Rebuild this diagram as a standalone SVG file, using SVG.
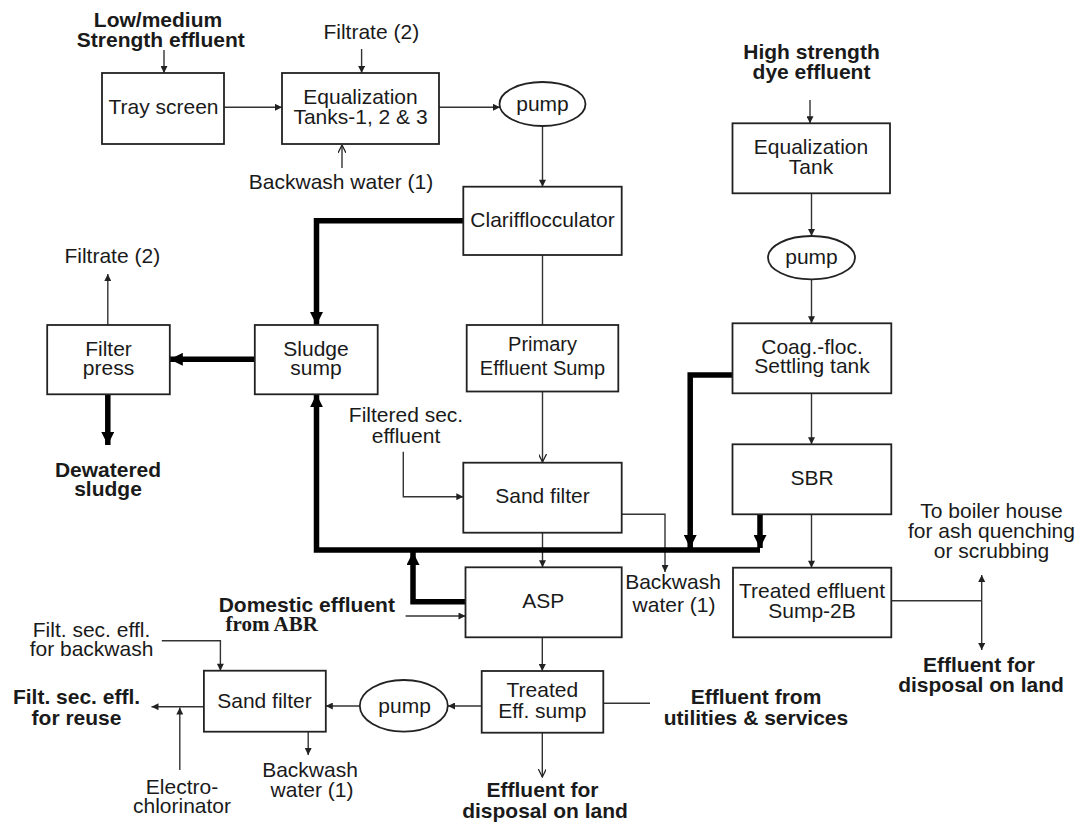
<svg xmlns="http://www.w3.org/2000/svg" width="1079" height="825" viewBox="0 0 1079 825">
  <style>
    text { font-family: "Liberation Sans", Arial, sans-serif; font-size: 21px; fill: #1a1a1a; text-anchor: middle; }
    .b { font-weight: bold; }
    .serif { font-family: "Liberation Serif", "Times New Roman", serif; }
    .box { fill: #ffffff; stroke: #222222; stroke-width: 1.8; }
    .thin { fill: none; stroke: #333333; stroke-width: 1.4; }
    .thick { fill: none; stroke: #000000; stroke-width: 5.5; }
    .a { marker-end: url(#arr); }
    .v { marker-end: url(#arrV); }
    .ab { marker-end: url(#arrB); }
  </style>
  <defs>
    <marker id="arr" viewBox="0 0 10 10" refX="10" refY="5" markerUnits="userSpaceOnUse" markerWidth="9" markerHeight="7" orient="auto-start-reverse">
      <path d="M0,0 L10,5 L0,10 z" fill="#222222"/>
    </marker>
    <marker id="arrV" viewBox="0 0 10 10" refX="10" refY="5" markerUnits="userSpaceOnUse" markerWidth="9" markerHeight="8" orient="auto">
      <path d="M0,0 L10,5 L0,10" fill="none" stroke="#222222" stroke-width="1.6"/>
    </marker>
    <marker id="arrB" viewBox="0 0 10 10" refX="10" refY="5" markerUnits="userSpaceOnUse" markerWidth="13" markerHeight="13" orient="auto">
      <path d="M0,0 L10,5 L0,10 z" fill="#000000"/>
    </marker>
  </defs>
  <rect width="1079" height="825" fill="#ffffff"/>

  <!-- flow connectors -->
  <g id="connectors">
    <!-- low/medium strength line -->
    <path class="thin a" d="M164,50 V73"/>
    <path class="thin a" d="M224,107.3 H282"/>
    <path class="thin a" d="M361.6,49 V73"/>
    <path class="thin v" d="M342,168 V145"/>
    <path class="thin a" d="M439,107.3 H500"/>
    <path class="thin a" d="M542.5,126 V186.7"/>
    <path class="thin" d="M542.5,255 V325"/>
    <path class="thin v" d="M542.5,391.5 V462"/>
    <path class="thin a" d="M403.3,451.7 V496.7 H463.3"/>
    <path class="thin a" d="M620,514.3 H665 V572"/>
    <path class="thin a" d="M542.5,532.7 V567.3"/>
    <path class="thin a" d="M405.6,616 H465.5"/>
    <path class="thin a" d="M542.3,637.3 V671"/>
    <path class="thin v" d="M542.3,732.7 V777"/>
    <path class="thin" d="M650,703.3 H603.3"/>
    <path class="thin a" d="M481.7,706 H448"/>
    <path class="thin a" d="M359.8,706 H325.8"/>
    <path class="thin a" d="M203.9,706.7 H151.5"/>
    <path class="thin a" d="M179.8,770 V707.5"/>
    <path class="thin a" d="M308.2,731.7 V755"/>
    <path class="thin a" d="M161.8,640.7 H220.4 V670.7"/>
    <path class="thin a" d="M107.8,325 V274"/>
    <!-- high strength dye line -->
    <path class="thin a" d="M810,100 V123.3"/>
    <path class="thin a" d="M811.5,193.3 V236"/>
    <path class="thin a" d="M811.5,279.3 V323.3"/>
    <path class="thin a" d="M811.5,393.3 V444.3"/>
    <path class="thin a" d="M811.5,514.3 V567.7"/>
    <path class="thin" d="M891.3,600.7 H981.7"/>
    <path class="thin" d="M981.7,575 V650" marker-start="url(#arr)" marker-end="url(#arr)"/>
    <!-- sludge lines -->
    <path class="thick ab" d="M463.3,220.7 H316.5 V325"/>
    <path class="thick ab" d="M254.8,359.3 H169.8"/>
    <path class="thick ab" d="M107.8,394.3 V445"/>
    <path class="thick ab" d="M760,550 H316.5 V394.3"/>
    <path class="thick ab" d="M732.5,375 H690.2 V548"/>
    <path class="thick ab" d="M760,514.3 V548"/>
    <path class="thick ab" d="M465.5,601.7 H413 V552"/>
  </g>

  <g id="tray-screen">
    <rect class="box" x="102" y="73" width="122" height="71"/>
    <text x="163.5" y="114">Tray screen</text>
  </g>
  <g id="equalization-tanks">
    <rect class="box" x="282" y="73" width="157" height="71"/>
    <text x="360.5" y="104">Equalization</text>
    <text x="360.5" y="124">Tanks-1, 2 &amp; 3</text>
  </g>
  <g id="pump-1">
    <ellipse class="box" cx="542.5" cy="104" rx="43" ry="22"/>
    <text x="542.5" y="111">pump</text>
  </g>
  <g id="equalization-tank">
    <rect class="box" x="732.5" y="123.3" width="157.5" height="70"/>
    <text x="811" y="154.3">Equalization</text>
    <text x="811" y="174">Tank</text>
  </g>
  <g id="pump-2">
    <ellipse class="box" cx="811.5" cy="257.7" rx="43.5" ry="21.7"/>
    <text x="811.5" y="264">pump</text>
  </g>
  <g id="clarifflocculator">
    <rect class="box" x="463.3" y="186.7" width="158.4" height="68.3"/>
    <text x="542.5" y="227.3">Clarifflocculator</text>
  </g>
  <g id="filter-press">
    <rect class="box" x="47.2" y="325" width="122.6" height="69.3"/>
    <text x="108.5" y="355.7">Filter</text>
    <text x="108.5" y="375">press</text>
  </g>
  <g id="sludge-sump">
    <rect class="box" x="254.8" y="325" width="122.9" height="69.3"/>
    <text x="316" y="355.7">Sludge</text>
    <text x="316" y="375">sump</text>
  </g>
  <g id="primary-effluent-sump">
    <rect class="box" x="466.7" y="325" width="151.6" height="66.5"/>
    <text x="542.5" y="350.7" style="font-size:20px">Primary</text>
    <text x="542.5" y="375" style="font-size:20px">Effluent Sump</text>
  </g>
  <g id="coag-floc">
    <rect class="box" x="732.5" y="323.3" width="158.8" height="70"/>
    <text x="812" y="354">Coag.-floc.</text>
    <text x="812" y="373.3">Settling tank</text>
  </g>
  <g id="sbr">
    <rect class="box" x="732.5" y="444.3" width="158.8" height="70"/>
    <text x="812" y="485">SBR</text>
  </g>
  <g id="sand-filter-1">
    <rect class="box" x="463.3" y="462.7" width="158.4" height="70"/>
    <text x="542.5" y="503.3">Sand filter</text>
  </g>
  <g id="asp">
    <rect class="box" x="465.5" y="567.3" width="156.2" height="70"/>
    <text x="543.3" y="608.3">ASP</text>
  </g>
  <g id="treated-effluent-sump-2b">
    <rect class="box" x="733" y="567.7" width="158.3" height="69.6"/>
    <text x="812" y="598.3">Treated effluent</text>
    <text x="812" y="618.3">Sump-2B</text>
  </g>
  <g id="treated-eff-sump">
    <rect class="box" x="481.7" y="671" width="121.6" height="61.7"/>
    <text x="542.3" y="697.3">Treated</text>
    <text x="542.3" y="718.3">Eff. sump</text>
  </g>
  <g id="pump-3">
    <ellipse class="box" cx="403.8" cy="705.8" rx="44" ry="25.8"/>
    <text x="404.6" y="713.3">pump</text>
  </g>
  <g id="sand-filter-2">
    <rect class="box" x="203.9" y="670.7" width="121.9" height="61"/>
    <text x="264.5" y="708.3">Sand filter</text>
  </g>

  <!-- stream labels -->
  <g id="labels">
    <text class="b" x="158" y="26.7">Low/medium</text>
    <text class="b" x="160.8" y="47.3">Strength effluent</text>
    <text x="371.3" y="39.3">Filtrate (2)</text>
    <text x="341" y="189">Backwash water (1)</text>
    <text class="b" x="811.5" y="59.3">High strength</text>
    <text class="b" x="811.5" y="79.3">dye effluent</text>
    <text x="112.3" y="262.7">Filtrate (2)</text>
    <text class="b" x="108" y="476.7">Dewatered</text>
    <text class="b" x="108" y="496">sludge</text>
    <text x="406" y="421.7">Filtered sec.</text>
    <text x="406" y="443">effluent</text>
    <text x="673" y="589.3">Backwash</text>
    <text x="674" y="611.7">water (1)</text>
    <text x="991.5" y="518.3">To boiler house</text>
    <text x="991.5" y="538.3">for ash quenching</text>
    <text x="991.5" y="558.3">or scrubbing</text>
    <text class="b" x="979" y="671.7">Effluent for</text>
    <text class="b" x="981" y="691.7">disposal on land</text>
    <text class="b" x="218.7" y="611.7" style="text-anchor:start">Domestic effluent</text>
    <text class="b serif" x="225.5" y="631" style="text-anchor:start">from ABR</text>
    <text class="b" x="756" y="704">Effluent from</text>
    <text class="b" x="756" y="725">utilities &amp; services</text>
    <text x="91.5" y="636.7">Filt. sec. effl.</text>
    <text x="91.5" y="656">for backwash</text>
    <text class="b" x="76.5" y="704">Filt. sec. effl.</text>
    <text class="b" x="76.5" y="725">for reuse</text>
    <text x="310" y="776.7">Backwash</text>
    <text x="312" y="796.7">water (1)</text>
    <text x="182" y="794.3">Electro-</text>
    <text x="182" y="813.3">chlorinator</text>
    <text class="b" x="542.5" y="797.3">Effluent for</text>
    <text class="b" x="545" y="818.3">disposal on land</text>
  </g>
</svg>
